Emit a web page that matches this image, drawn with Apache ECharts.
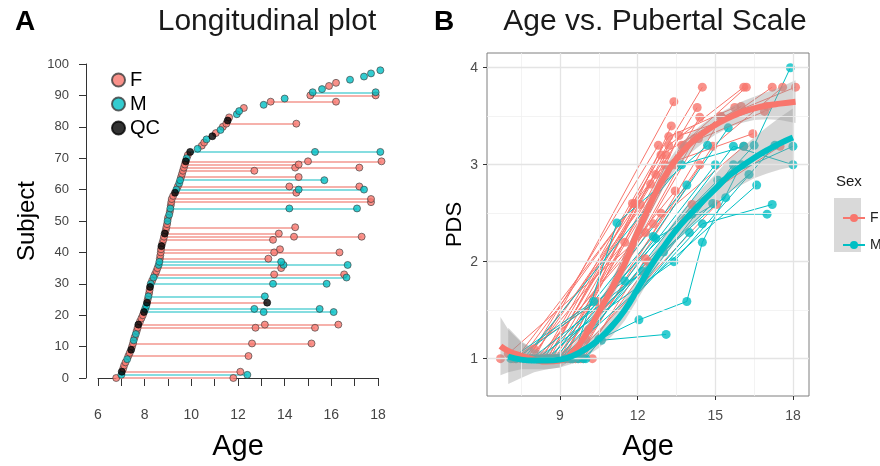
<!DOCTYPE html>
<html><head><meta charset="utf-8">
<script src="https://cdn.jsdelivr.net/npm/echarts@6/dist/echarts.min.js"></script>
<style>html,body{margin:0;padding:0;background:#fff}#c{width:880px;height:466px}</style>
</head><body><div id="c"></div>
<script>
// ---------- Panel A: longitudinal plot ----------
const aFirstAge = [6.78,7.00,7.02,7.08,7.12,7.18,7.25,7.30,7.36,7.42,7.46,7.50,7.53,7.57,7.62,7.66,7.70,7.73,7.80,7.86,
  7.92,7.97,8.02,8.07,8.10,8.13,8.16,8.19,8.21,8.23,8.26,8.32,8.38,8.44,8.50,8.55,8.60,8.63,8.65,8.67,
  8.69,8.70,8.72,8.76,8.80,8.83,8.86,8.90,8.93,8.96,8.98,9.00,9.05,9.08,9.10,9.12,9.14,9.16,9.22,9.30,
  9.36,9.42,9.48,9.52,9.56,9.60,9.64,9.68,9.72,9.76,9.80,9.85,9.95,10.27,10.45,10.55,10.65,10.90,11.05,11.25,
  11.35,11.50,11.56,11.62,11.95,12.05,12.25,13.10,13.40,14.00,15.10,15.20,15.60,15.90,16.20,16.80,17.40,17.70,18.10];
const aSex = ['F','M','F','F','F','F','M','F','F','F','F','F','M','F','M','F','F','F','F','F',
  'F','M','M','M','F','F','M','F','F','M','M','F','M','F','F','F','M','M','F','F',
  'F','F','F','F','F','F','F','F','F','F','M','F','M','F','M','F','F','F','F','F',
  'M','F','M','M','F','F','F','F','F','F','M','F','M','M','F','F','M','F','F','M',
  'F','F','F','F','M','M','F','M','F','M','F','M','M','F','F','M','M','M','M'];
const aQCFirst = [2,9,17,21,24,29,42,46,59,69,72,77,82];
const aFollowSubj = [0,1,2,7,11,11,16,16,17,17,21,21,22,22,24,26,30,30,32,33,33,35,36,36,37,38,40,40,41,44,45,45,46,48,
  54,54,56,57,59,60,60,61,61,63,64,66,67,67,68,69,69,72,72,81,88,90,91];
const aFollowAge = [11.8,12.4,12.1,12.45,12.6,15.15,12.75,15.3,13.15,16.3,13.1,16.1,12.7,15.5,13.25,13.15,13.5,15.8,16.65,13.55,16.55,13.85,13.95,16.7,13.85,13.3,13.55,16.35,13.8,13.5,14.4,17.3,13.75,14.45,
  14.2,17.1,17.7,17.7,14.5,14.6,17.4,14.2,17.2,15.7,14.6,12.7,14.45,17.2,14.6,15.0,18.15,15.3,18.1,14.5,16.2,17.9,17.9];
const aFollowQC = [24];
const aXTicks = [6,8,10,12,14,16,18];

// ---------- Panel B: age vs pubertal scale ----------
const bSex = ['F','F','F','F','F','F','F','F','F','F','F','F','F','F','F','F','F','F','F','F','F','F','F','F','F','F','F','F','F','F','F','F','F','F','F',
  'M','M','M','M','M','M','M','M','M','M','M','M','M','M','M','M','M','M','M'];
const bAge = [[8.0,13.4],[8.6,11.8,14.5],[9.0,13.2,16.1],[8.8,13.7,16.2],[9.4,14.35,17.2],[9.6,14.9,17.6],[9.7,15.25,18.1],
  [8.3,13.2,15.75],[8.5,14.3],[8.9,14.4],[9.1,13.05,16.45],[7.7,13.4],[9.3,14.4],[8.2,13.45],[9.8,14.1,17.5],[9.5,15.05],
  [8.1,12.6,16.1],[7.3,11.9],[7.0,12.3],[8.7,12.1],[9.9,12.3],[7.5,12.7,15.2],[8.4,12.9,16.0],[7.2,10.45],[6.7,10.25],
  [9.2,13.3],[8.0,12.8],[7.9,12.5],[10.0,13.6,17.0],[9.0,12.9],[8.5,13.1],[7.8,11.5],[9.6,13.8,16.9],[10.1,14.2],[8.95,12.4],
  [9.9,10.6,13.1],[9.0,12.05,13.9,14.5,16.0],[7.1,10.3,13.9],[9.5,11.2,14.7],[8.6,12.6,15.5],[8.8,12.7,15.4],[9.2,14.1,17.0],
  [9.7,14.5,17.2],[8.3,15.1,18.0],[9.4,15.7,18.0],[8.9,16.5,17.9],[9.0,16.6],[10.0,15.7],[7.6,13.7,16.1],[8.1,13.4,17.3],
  [7.3,11.5,15.0],[10.5,14.0],[7.9,12.2,14.9],[8.5,13.0,16.3]];
const bPds = [[1.0,3.65],[1.0,2.6,3.8],[1.0,3.2,3.8],[1.0,3.2,3.8],[1.0,3.27,3.8],[1.0,3.19,3.8],[1.0,3.49,3.8],
  [1.0,3.29,3.59],[1.0,3.59],[1.0,3.49],[1.0,3.0,3.32],[1.0,3.0],[1.0,3.0],[1.0,2.73],[1.0,2.59,3.19],[1.0,2.59],
  [1.0,2.39,3.19],[1.0,2.6],[1.05,2.3],[1.0,2.59],[1.0,2.03],[1.0,2.9,3.5],[1.0,3.1,3.6],[1.0,1.59],[1.0,1.0],
  [1.0,3.4],[1.1,3.2],[1.0,2.8],[1.2,3.3,3.6],[1.0,2.5],[1.0,3.1],[1.0,2.2],[1.0,3.2,3.55],[1.3,3.27],[1.0,2.0],
  [1.0,1.19,1.25],[1.0,1.4,1.59,2.2,3.0],[1.0,1.59,2.79],[1.0,2.4,3.2],[1.0,2.26,3.38],[1.0,2.24,2.66],[1.0,2.49,2.49],
  [1.0,2.39,2.59],[1.0,2.84,3.19],[1.0,3.19,3.0],[1.0,3.2,4.0],[1.0,2.79],[1.0,3.0],[1.0,3.0,3.19],[1.0,2.0,3.2],
  [1.0,1.8,3.0],[1.2,2.3],[1.0,1.9,2.6],[1.0,2.1,2.9]];
const fitAgeF = [6.7,7.0,7.5,8,8.5,9,9.5,10,10.5,11,11.5,12,12.5,13,13.5,14,14.5,15,15.5,16,16.5,17,17.5,18.1];
const fitF = [1.13,1.08,1.03,0.99,0.97,0.98,1.07,1.25,1.48,1.72,1.98,2.3,2.6,2.86,3.06,3.21,3.32,3.41,3.48,3.54,3.58,3.61,3.63,3.65];
const loF  = [0.83,0.86,0.89,0.89,0.89,0.91,1.0,1.17,1.39,1.62,1.88,2.2,2.5,2.76,2.96,3.11,3.22,3.31,3.38,3.43,3.46,3.47,3.46,3.43];
const hiF  = [1.43,1.30,1.17,1.09,1.05,1.05,1.14,1.33,1.57,1.82,2.08,2.4,2.7,2.96,3.16,3.31,3.42,3.51,3.58,3.65,3.70,3.75,3.80,3.87];
const fitAgeM = [7.0,7.5,8,8.5,9,9.5,10,10.5,11,11.5,12,12.5,13,13.5,14,14.5,15,15.5,16,16.5,17,17.5,18.0];
const fitM = [1.02,0.99,0.98,0.98,0.99,1.03,1.1,1.2,1.33,1.5,1.72,1.95,2.15,2.33,2.48,2.62,2.75,2.88,2.98,3.07,3.15,3.22,3.28];
const loM  = [0.74,0.8,0.86,0.89,0.91,0.95,1.02,1.11,1.23,1.39,1.61,1.84,2.04,2.21,2.35,2.48,2.6,2.71,2.79,2.86,2.91,2.95,2.98];
const hiM  = [1.32,1.18,1.1,1.07,1.07,1.11,1.18,1.29,1.43,1.61,1.83,2.06,2.26,2.45,2.61,2.76,2.9,3.05,3.17,3.28,3.39,3.49,3.58];
const bXTicks = [9,12,15,18];
const bYTicks = [1,2,3,4];
const bXMinor = [7.5,10.5,13.5,16.5];
const bYMinor = [1.5,2.5,3.5];

const CF = '#F8766D', CM = '#00BFC4';
const FONT = 'Liberation Sans, Arial, sans-serif';

// build panel A
const segF = [], segM = [], ptF = [], ptM = [], ptQ = [];
aFirstAge.forEach((a, s) => {
  const ages = [a];
  aFollowSubj.forEach((t, i) => { if (t === s) ages.push(aFollowAge[i]); });
  if (ages.length > 1) (aSex[s] === 'F' ? segF : segM).push({coords: [[a, s], [Math.max(...ages), s]]});
  const p = [a, s];
  if (aQCFirst.includes(s)) ptQ.push(p); else (aSex[s] === 'F' ? ptF : ptM).push(p);
});
aFollowSubj.forEach((s, i) => {
  const p = [aFollowAge[i], s];
  if (aFollowQC.includes(s)) ptQ.push(p); else (aSex[s] === 'F' ? ptF : ptM).push(p);
});

// build panel B
const trF = [], trM = [], bpF = [], bpM = [];
bSex.forEach((sx, i) => {
  const coords = bAge[i].map((a, j) => [a, bPds[i][j]]);
  (sx === 'F' ? trF : trM).push({coords});
  coords.forEach(c => (sx === 'F' ? bpF : bpM).push(c));
});
function band(ages, lo, hi) {
  return {
    type: 'custom', xAxisIndex: 1, yAxisIndex: 1, z: 4, silent: true, clip: true,
    data: [[ages[0], lo[0]]],
    renderItem: (params, api) => {
      const pts = [];
      for (let i = 0; i < ages.length; i++) pts.push(api.coord([ages[i], hi[i]]));
      for (let i = ages.length - 1; i >= 0; i--) pts.push(api.coord([ages[i], lo[i]]));
      return {type: 'polygon', shape: {points: pts}, style: {fill: 'rgba(153,153,153,0.4)'}};
    }
  };
}
const gridMarks = [].concat(
  bXMinor.map(v => ({xAxis: v, lineStyle: {color: '#f0f0f0', width: 0.8, type: 'solid'}})),
  bYMinor.map(v => ({yAxis: v, lineStyle: {color: '#f0f0f0', width: 0.8, type: 'solid'}})),
  bXTicks.map(v => ({xAxis: v, lineStyle: {color: '#e4e4e4', width: 1.3, type: 'solid'}})),
  bYTicks.map(v => ({yAxis: v, lineStyle: {color: '#e4e4e4', width: 1.3, type: 'solid'}}))
);

const chart = echarts.init(document.getElementById('c'), null, {renderer: 'canvas'});
chart.setOption({
  animation: false,
  textStyle: {fontFamily: FONT},
  title: [
    {text: 'A', left: 10, top: 3, textStyle: {fontSize: 28, fontWeight: 'bold', color: '#000', fontFamily: FONT}},
    {text: 'Longitudinal plot', left: 262, top: 2, textAlign: 'center', textStyle: {fontSize: 30, fontWeight: 'normal', color: '#1a1a1a', fontFamily: FONT}},
    {text: 'B', left: 429, top: 3, textStyle: {fontSize: 28, fontWeight: 'bold', color: '#000', fontFamily: FONT}},
    {text: 'Age vs. Pubertal Scale', left: 650, top: 2, textAlign: 'center', textStyle: {fontSize: 30, fontWeight: 'normal', color: '#1a1a1a', fontFamily: FONT}},
    {text: 'Sex', left: 831, top: 169, textStyle: {fontSize: 15, fontWeight: 'normal', color: '#1a1a1a', fontFamily: FONT}}
  ],
  graphic: [{type: 'rect', shape: {x: 834, y: 198, width: 27, height: 54}, style: {fill: '#d9d9d9'}, z: -1}],
  legend: [
    {data: ['F', 'M', 'QC'], orient: 'vertical', left: 106, top: 65, itemWidth: 13, itemHeight: 13, itemGap: 4,
     selectedMode: false, textStyle: {fontSize: 20, color: '#000', lineHeight: 20, fontFamily: FONT}},
    {data: ['F ', 'M '], orient: 'vertical', left: 837, top: 205, itemWidth: 22, itemHeight: 10, itemGap: 11,
     selectedMode: false, textStyle: {fontSize: 14, color: '#222', lineHeight: 16, fontFamily: FONT}}
  ],
  grid: [
    {left: 98, top: 64, width: 280, height: 317, show: false},
    {left: 487, top: 53, width: 322, height: 349, show: true, borderColor: '#7f7f7f', borderWidth: 1, backgroundColor: '#fff'}
  ],
  xAxis: [
    {gridIndex: 0, type: 'value', min: 6, max: 18, interval: 1, offset: 12,
     axisLine: {show: true, lineStyle: {color: '#333'}}, axisTick: {show: true, length: 8, lineStyle: {color: '#333'}},
     axisLabel: {fontSize: 14, color: '#444', margin: 18, formatter: v => aXTicks.includes(v) ? String(v) : ''},
     splitLine: {show: false},
     name: 'Age', nameLocation: 'middle', nameGap: 42, nameTextStyle: {fontSize: 29, color: '#000', fontFamily: FONT}},
    {gridIndex: 1, type: 'value', min: 6.18, max: 18.62,
     axisLine: {show: false}, axisTick: {show: true, length: 4, customValues: bXTicks, lineStyle: {color: '#333'}},
     axisLabel: {customValues: bXTicks, fontSize: 14, color: '#4d4d4d', margin: 13},
     splitLine: {show: false},
     name: 'Age', nameLocation: 'middle', nameGap: 36, nameTextStyle: {fontSize: 29, color: '#000', fontFamily: FONT}},
  ],
  yAxis: [
    {gridIndex: 0, type: 'value', min: 0, max: 100, interval: 10, offset: 12,
     axisLine: {show: true, lineStyle: {color: '#333'}}, axisTick: {show: true, length: 7, lineStyle: {color: '#333'}},
     axisLabel: {fontSize: 13, color: '#444', margin: 17},
     splitLine: {show: false},
     name: 'Subject', nameLocation: 'middle', nameRotate: 90, nameGap: 47, nameTextStyle: {fontSize: 24, color: '#000', fontFamily: FONT}},
    {gridIndex: 1, type: 'value', min: 0.615, max: 4.152,
     axisLine: {show: false}, axisTick: {show: true, length: 4, customValues: bYTicks, lineStyle: {color: '#333'}},
     axisLabel: {customValues: bYTicks, fontSize: 14, color: '#4d4d4d', margin: 9},
     splitLine: {show: false},
     name: 'PDS', nameLocation: 'middle', nameRotate: 90, nameGap: 21, nameTextStyle: {fontSize: 22, color: '#000', fontFamily: FONT}}
  ],
  series: [
    // panel A
    {type: 'lines', coordinateSystem: 'cartesian2d', xAxisIndex: 0, yAxisIndex: 0, clip: false, silent: true, z: 1,
     lineStyle: {color: '#f6b1ab', width: 2.2, opacity: 1}, data: segF},
    {type: 'lines', coordinateSystem: 'cartesian2d', xAxisIndex: 0, yAxisIndex: 0, clip: false, silent: true, z: 1,
     lineStyle: {color: '#86dde0', width: 2.2, opacity: 1}, data: segM},
    {name: 'F', type: 'scatter', xAxisIndex: 0, yAxisIndex: 0, clip: false, symbol: 'circle', symbolSize: 7, z: 3,
     itemStyle: {color: CF, borderColor: '#3a3a3a', borderWidth: 0.8}, data: ptF},
    {name: 'M', type: 'scatter', xAxisIndex: 0, yAxisIndex: 0, clip: false, symbol: 'circle', symbolSize: 7, z: 3,
     itemStyle: {color: CM, borderColor: '#3a3a3a', borderWidth: 0.8}, data: ptM},
    {name: 'QC', type: 'scatter', xAxisIndex: 0, yAxisIndex: 0, clip: false, symbol: 'circle', symbolSize: 7, z: 3,
     itemStyle: {color: '#000', borderColor: '#000', borderWidth: 0.8}, data: ptQ},
    // panel B gridlines
    {type: 'scatter', xAxisIndex: 1, yAxisIndex: 1, symbolSize: 0, silent: true, z: 0, data: [[9, 1]],
     markLine: {silent: true, symbol: ['none', 'none'], label: {show: false}, animation: false, data: gridMarks}},
    // individual trajectories
    {type: 'lines', coordinateSystem: 'cartesian2d', xAxisIndex: 1, yAxisIndex: 1, polyline: true, silent: true, z: 2,
     lineStyle: {color: CF, width: 1, opacity: 1}, data: trF},
    {type: 'lines', coordinateSystem: 'cartesian2d', xAxisIndex: 1, yAxisIndex: 1, polyline: true, silent: true, z: 2,
     lineStyle: {color: CM, width: 1, opacity: 1}, data: trM},
    {type: 'scatter', xAxisIndex: 1, yAxisIndex: 1, symbolSize: 9, silent: true, z: 3, itemStyle: {color: CF}, data: bpF},
    {type: 'scatter', xAxisIndex: 1, yAxisIndex: 1, symbolSize: 9, silent: true, z: 3, itemStyle: {color: CM}, data: bpM},
    // smooth bands + fits
    band(fitAgeF, loF, hiF),
    band(fitAgeM, loM, hiM),
    {name: 'F ', type: 'line', xAxisIndex: 1, yAxisIndex: 1, smooth: true, showSymbol: false, symbol: 'circle', symbolSize: 9, z: 5,
     itemStyle: {color: CF}, lineStyle: {color: CF, width: 6}, data: fitAgeF.map((a, i) => [a, fitF[i]])},
    {name: 'M ', type: 'line', xAxisIndex: 1, yAxisIndex: 1, smooth: true, showSymbol: false, symbol: 'circle', symbolSize: 9, z: 5,
     itemStyle: {color: CM}, lineStyle: {color: CM, width: 6}, data: fitAgeM.map((a, i) => [a, fitM[i]])}
  ]
});
</script></body></html>
